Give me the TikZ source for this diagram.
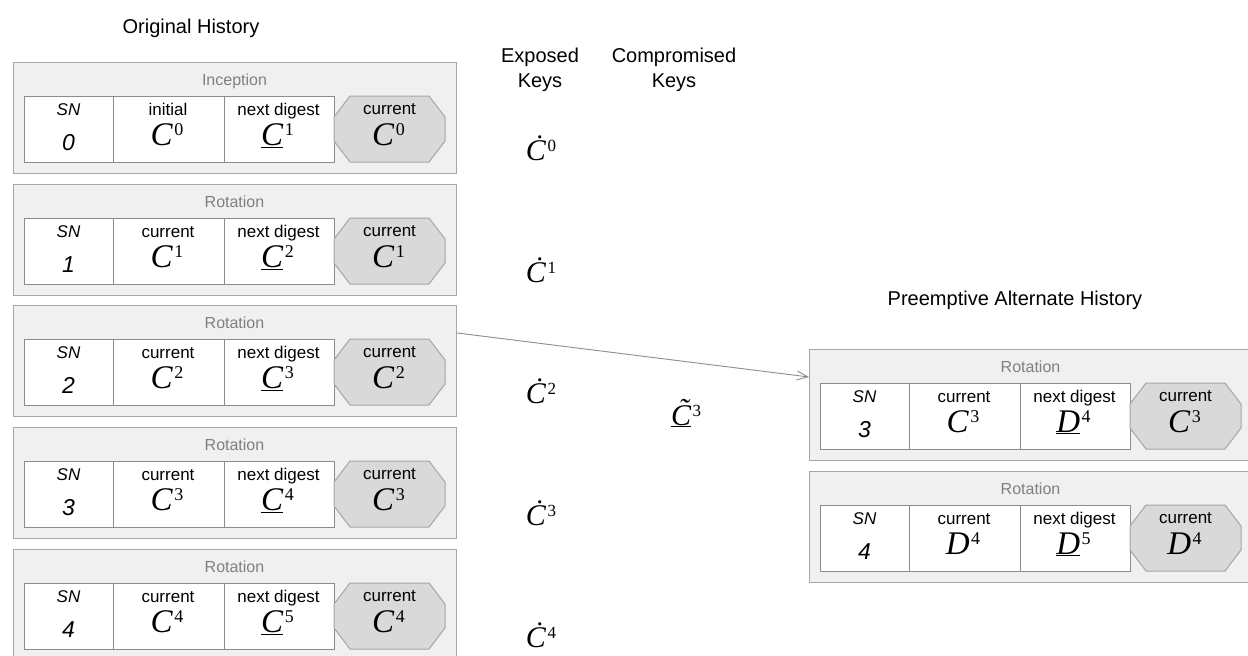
\documentclass[tikz,border=0pt]{standalone}
\usepackage{fontspec}
\setmainfont{Liberation Sans}
\newfontfamily\tms{Liberation Serif}
\usepackage{xcolor}
\usetikzlibrary{arrows.meta,positioning,calc}
\definecolor{boxfill}{HTML}{F0F0F0}
\definecolor{boxline}{HTML}{A6A6A6}
\definecolor{cellline}{HTML}{8C8C8C}
\definecolor{curfill}{HTML}{D9D9D9}
\definecolor{titlegray}{HTML}{808080}
\definecolor{arrowgray}{HTML}{8C8C8C}
% key value with superscript: cells and key columns
\newcommand{\kv}[2]{{\tms\fontsize{33}{33}\selectfont\textit{#1}\hspace{1.5pt}\raisebox{10pt}{\fontsize{18}{18}\selectfont #2}}}
\newcommand{\kx}[2]{{\tms\fontsize{30}{30}\selectfont\textit{#1}\hspace{1.5pt}\raisebox{9pt}{\fontsize{17}{17}\selectfont #2}}}

\begin{document}
\begin{tikzpicture}[
      x=1pt, y=-1pt,
      every node/.style={inner sep=0pt},
      outer/.style={draw=boxline,fill=boxfill,line width=1.2pt,minimum width=443pt,minimum height=111pt,anchor=north west},
      snbox/.style={draw=cellline,fill=white,line width=1pt,minimum width=89pt,minimum height=66pt,anchor=north west},
      cellbox/.style={snbox,minimum width=110.5pt},
      curbox/.style={draw=boxline,fill=curfill,line width=1pt},
      ttl/.style={anchor=base,text=titlegray,font=\fontsize{16}{19}\selectfont},
      lab/.style={anchor=base,font=\fontsize{17}{20}\selectfont},
      snv/.style={anchor=base,font=\fontsize{23}{27}\selectfont\itshape},
      val/.style={anchor=base},
      head/.style={font=\fontsize{20}{25}\selectfont,align=center},
      arr/.style={-{Straight Barb[length=11pt,width=9pt]},draw=arrowgray,line width=0.9pt}
  ]
    \useasboundingbox (0,0) rectangle (1248,656);
    \clip (0,0) rectangle (1248,656);

    \node[head] (orig) at (191,28) {Original History};
    \node[head] (exp)  at (540,70) {Exposed\\Keys};
    \node[head] (comp) at (674,70) {Compromised\\Keys};
    \node[head] (alt)  at (1015,300) {Preemptive Alternate History};

    % event blocks
    \foreach \n/\bx/\by/\ttl/\lab/\sn/\ca/\cs/\na/\ns in {
        h0/13/62/Inception/initial/0/C/0/C/1,
        h1/13/184/Rotation/current/1/C/1/C/2,
        h2/13/305/Rotation/current/2/C/2/C/3,
        h3/13/427/Rotation/current/3/C/3/C/4,
        h4/13/549/Rotation/current/4/C/4/C/5,
        a3/809/349/Rotation/current/3/C/3/D/4,
        a4/809/471/Rotation/current/4/D/4/D/5}{
      \node[outer] (\n) at (\bx,\by) {};
      \node[ttl] (\n-t) at (\bx+221.5,\by+23) {\ttl};
      \node[snbox]   (\n-s) at (\bx+11,\by+34) {};
      \node[cellbox] (\n-c) at (\bx+100,\by+34) {};
      \node[cellbox] (\n-d) at (\bx+210.5,\by+34) {};
      \draw[curbox] (\bx+337,\by+34) -- (\bx+416,\by+34) -- (\bx+432,\by+55)
        -- (\bx+432,\by+79) -- (\bx+416,\by+100) -- (\bx+337,\by+100)
        -- (\bx+321,\by+79) -- (\bx+321,\by+55) -- cycle;
      \node[lab] (\n-sl) at (\bx+55.5,\by+53) {\itshape SN};
      \node[snv] (\n-sv) at (\bx+55.5,\by+88) {\sn};
      \node[lab] (\n-cl) at (\bx+155,\by+53) {\lab};
      \node[val] (\n-cv) at (\bx+154,\by+83) {\kv{\ca}{\cs}};
      \node[lab] (\n-dl) at (\bx+265.5,\by+53) {next digest};
      \node[val] (\n-dv) at (\bx+264.5,\by+83) {\kv{\underline{\na}}{\ns}};
      \node[lab] (\n-ol) at (\bx+376.5,\by+52) {current};
      \node[val] (\n-ov) at (\bx+375.5,\by+83) {\kv{\ca}{\cs}};
    }

    % exposed and compromised keys
    \foreach \k/\ky in {0/160,1/282,2/403,3/525,4/647}
      \node[val] (e\k) at (541,\ky) {\kx{\.C}{\k}};
    \node[val] (x3) at (686,425) {\kx{\underline{\~C}}{3}};

    \draw[arr] ([yshift=-28pt]h2.north east) -- ([yshift=-28pt]a3.north west);
\end{tikzpicture}
\end{document}
